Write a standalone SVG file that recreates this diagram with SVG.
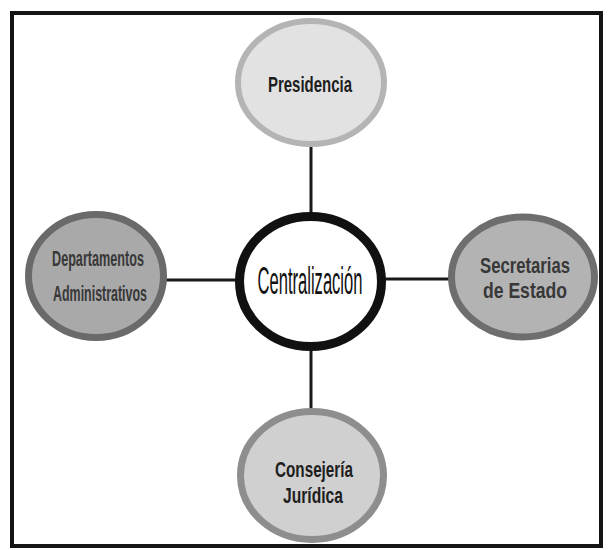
<svg xmlns="http://www.w3.org/2000/svg" width="608" height="550" viewBox="0 0 608 550">
  <style>
    .lbl { font-family: "Liberation Sans", Arial, sans-serif; font-weight: bold; font-size: 22px; text-anchor: middle; fill: #1e1e1e; }
    .dark { fill: #383838; }
    .center { font-family: "Liberation Sans", Arial, sans-serif; font-size: 38px; text-anchor: middle; fill: #111; }
    .conn { stroke: #1a1a1a; stroke-width: 3; fill: none; }
  </style>
  <rect width="608" height="550" fill="#ffffff"/>
  <g id="frame">
    <rect x="12" y="13" width="589" height="533" fill="none" stroke="#141414" stroke-width="4"/>
  </g>
  <g id="connectors">
    <line class="conn" x1="311" y1="146" x2="311" y2="214"/>
    <line class="conn" x1="311" y1="349" x2="311" y2="410"/>
    <line class="conn" x1="166" y1="280" x2="237" y2="280"/>
    <line class="conn" x1="384" y1="279" x2="450" y2="279"/>
  </g>
  <g id="presidencia">
    <ellipse cx="311" cy="82.5" rx="73" ry="61.5" fill="#e2e2e2" stroke="#b4b4b4" stroke-width="6"/>
    <text class="lbl" x="310" y="92" textLength="84" lengthAdjust="spacingAndGlyphs">Presidencia</text>
  </g>
  <g id="departamentos">
    <ellipse cx="96" cy="276" rx="67.5" ry="61.5" fill="#a9a9a9" stroke="#6a6a6a" stroke-width="7"/>
    <text class="lbl dark" x="98" y="266" font-size="23" textLength="92" lengthAdjust="spacingAndGlyphs">Departamentos</text>
    <text class="lbl dark" x="100" y="301" font-size="23" textLength="94" lengthAdjust="spacingAndGlyphs">Administrativos</text>
  </g>
  <g id="centralizacion">
    <ellipse cx="310.5" cy="281.5" rx="71" ry="65" fill="#ffffff" stroke="#111111" stroke-width="9"/>
    <text class="center" x="0" y="0" transform="translate(310,294) scale(0.436,1)">Centralización</text>
  </g>
  <g id="secretarias">
    <ellipse cx="523" cy="277" rx="71.5" ry="60" fill="#b3b3b3" stroke="#6e6e6e" stroke-width="7"/>
    <text class="lbl dark" x="525" y="273" font-size="20" textLength="90" lengthAdjust="spacingAndGlyphs">Secretarias</text>
    <text class="lbl dark" x="525" y="298" font-size="20" textLength="84" lengthAdjust="spacingAndGlyphs">de Estado</text>
  </g>
  <g id="consejeria">
    <ellipse cx="312" cy="475.5" rx="71.5" ry="64" fill="#d0d0d0" stroke="#8e8e8e" stroke-width="7"/>
    <text class="lbl" x="314" y="477" textLength="78" lengthAdjust="spacingAndGlyphs">Consejería</text>
    <text class="lbl" x="313" y="503" textLength="60" lengthAdjust="spacingAndGlyphs">Jurídica</text>
  </g>
</svg>
